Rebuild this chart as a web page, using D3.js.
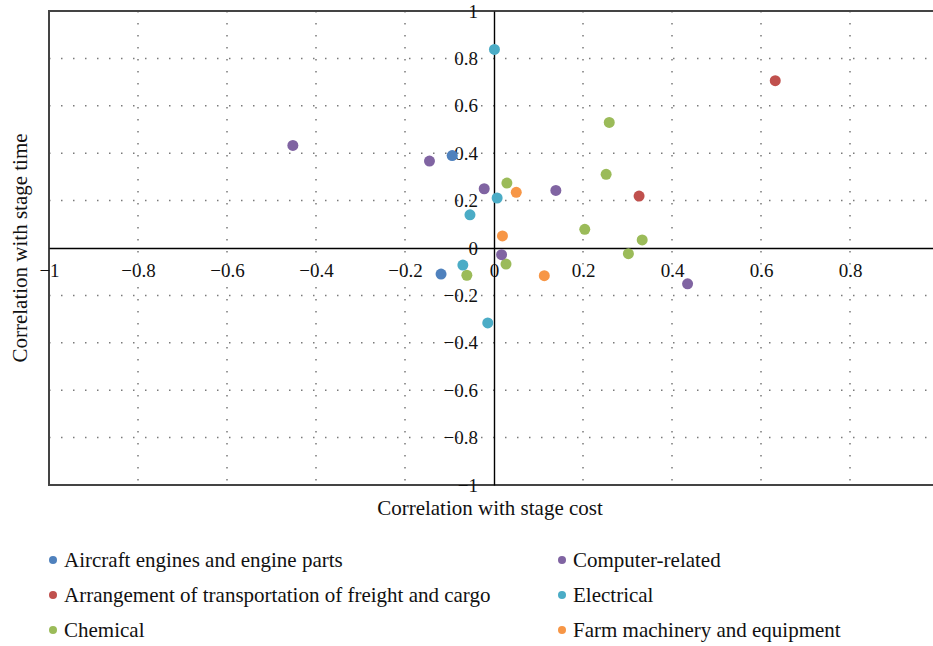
<!DOCTYPE html>
<html lang="en">
  <head>
    <meta charset="UTF-8" />
    <title>Correlation scatter</title>
    <script src="https://d3js.org/d3.v7.min.js"></script>
    <style>
      body { margin: 0; background: #fff; }
      svg text { font-family: "Liberation Serif", "DejaVu Serif", serif; fill: #111; }
    </style>
  </head>
  <body>
    <svg width="933" height="646" id="chart"></svg>

    <script>
      // Series: [correlation with stage cost, correlation with stage time]
      const categories = [
        "Aircraft engines and engine parts",
        "Arrangement of transportation of freight and cargo",
        "Chemical",
        "Computer-related",
        "Electrical",
        "Farm machinery and equipment",
      ];
      const colors = ["#4f81bd", "#c0504d", "#9bbb59", "#8064a2", "#4bacc6", "#f79646"];

      const aircraft = [[-0.094, 0.39], [-0.119, -0.11]];
      const freight = [[0.632, 0.706], [0.326, 0.219]];
      const chemical = [
        [0.259, 0.53], [0.252, 0.311], [0.029, 0.274], [0.204, 0.079],
        [0.333, 0.034], [0.302, -0.024], [0.027, -0.068], [-0.061, -0.115],
      ];
      const computer = [
        [-0.452, 0.433], [-0.145, 0.367], [-0.022, 0.25],
        [0.139, 0.243], [0.017, -0.028], [0.435, -0.151],
      ];
      const electrical = [
        [0.001, 0.838], [0.007, 0.211], [-0.054, 0.14], [-0.07, -0.072], [-0.014, -0.316],
      ];
      const farm = [[0.05, 0.235], [0.019, 0.051], [0.113, -0.117]];

      const series = [aircraft, freight, chemical, computer, electrical, farm];

      const xTicks = [-1, -0.8, -0.6, -0.4, -0.2, 0, 0.2, 0.4, 0.6, 0.8];
      const yTicks = [-1, -0.8, -0.6, -0.4, -0.2, 0, 0.2, 0.4, 0.6, 0.8, 1];
      const gridVals = [-0.8, -0.6, -0.4, -0.2, 0.2, 0.4, 0.6, 0.8];

      const svg = d3.select("#chart");
      const x = d3.scaleLinear().domain([-1, 1]).range([49, 939]);
      const y = d3.scaleLinear().domain([-1, 1]).range([485, 11]);
      const fmt = d3.format("~g");

      // dotted grid
      const grid = svg.append("g")
        .attr("stroke", "#7a7a7a")
        .attr("stroke-width", 1.5)
        .attr("stroke-dasharray", "1.5,10.5");
      grid.selectAll(".gx").data(gridVals).join("line")
        .attr("x1", (d) => x(d)).attr("x2", (d) => x(d))
        .attr("y1", y(1)).attr("y2", y(-1));
      grid.selectAll(".gy").data(gridVals).join("line")
        .attr("x1", x(-1)).attr("x2", x(1))
        .attr("y1", (d) => y(d)).attr("y2", (d) => y(d));

      // plot border
      svg.append("rect")
        .attr("x", x(-1)).attr("y", y(1))
        .attr("width", x(1) - x(-1)).attr("height", y(-1) - y(1))
        .attr("fill", "none").attr("stroke", "#444").attr("stroke-width", 2);

      // axes through the origin
      const xAxis = svg.append("g")
        .attr("transform", "translate(0," + y(0) + ")")
        .call(d3.axisBottom(x).tickValues(xTicks).tickFormat(fmt).tickSize(0).tickPadding(16));
      const yAxis = svg.append("g")
        .attr("transform", "translate(" + x(0) + ",0)")
        .call(d3.axisLeft(y).tickValues(yTicks).tickFormat(fmt).tickSize(0).tickPadding(16));
      [xAxis, yAxis].forEach((a) => {
        a.attr("font-family", null);
        a.select(".domain").attr("stroke", "#000").attr("stroke-width", 1.4);
        a.selectAll("text").attr("font-size", 19).attr("fill", "#111");
      });

      // points
      series.forEach((pts, i) => {
        svg.append("g").selectAll("circle").data(pts).join("circle")
          .attr("cx", (d) => x(d[0]))
          .attr("cy", (d) => y(d[1]))
          .attr("r", 5.5)
          .attr("fill", colors[i]);
      });

      // axis titles
      svg.append("text")
        .attr("x", 490).attr("y", 515)
        .attr("text-anchor", "middle").attr("font-size", 21)
        .text("Correlation with stage cost");
      svg.append("text")
        .attr("transform", "translate(27,248) rotate(-90)")
        .attr("text-anchor", "middle").attr("font-size", 21)
        .text("Correlation with stage time");

      // legend, filled column by column
      const legend = svg.append("g");
      categories.forEach((c, i) => {
        const col = Math.floor(i / 3), row = i % 3;
        const g = legend.append("g")
          .attr("transform", "translate(" + (col ? 562 : 53) + "," + (560 + row * 35) + ")");
        g.append("circle").attr("r", 4).attr("fill", colors[i]);
        g.append("text").attr("x", 11).attr("dy", "0.32em").attr("font-size", 21).text(c);
      });
    </script>
  </body>
</html>
